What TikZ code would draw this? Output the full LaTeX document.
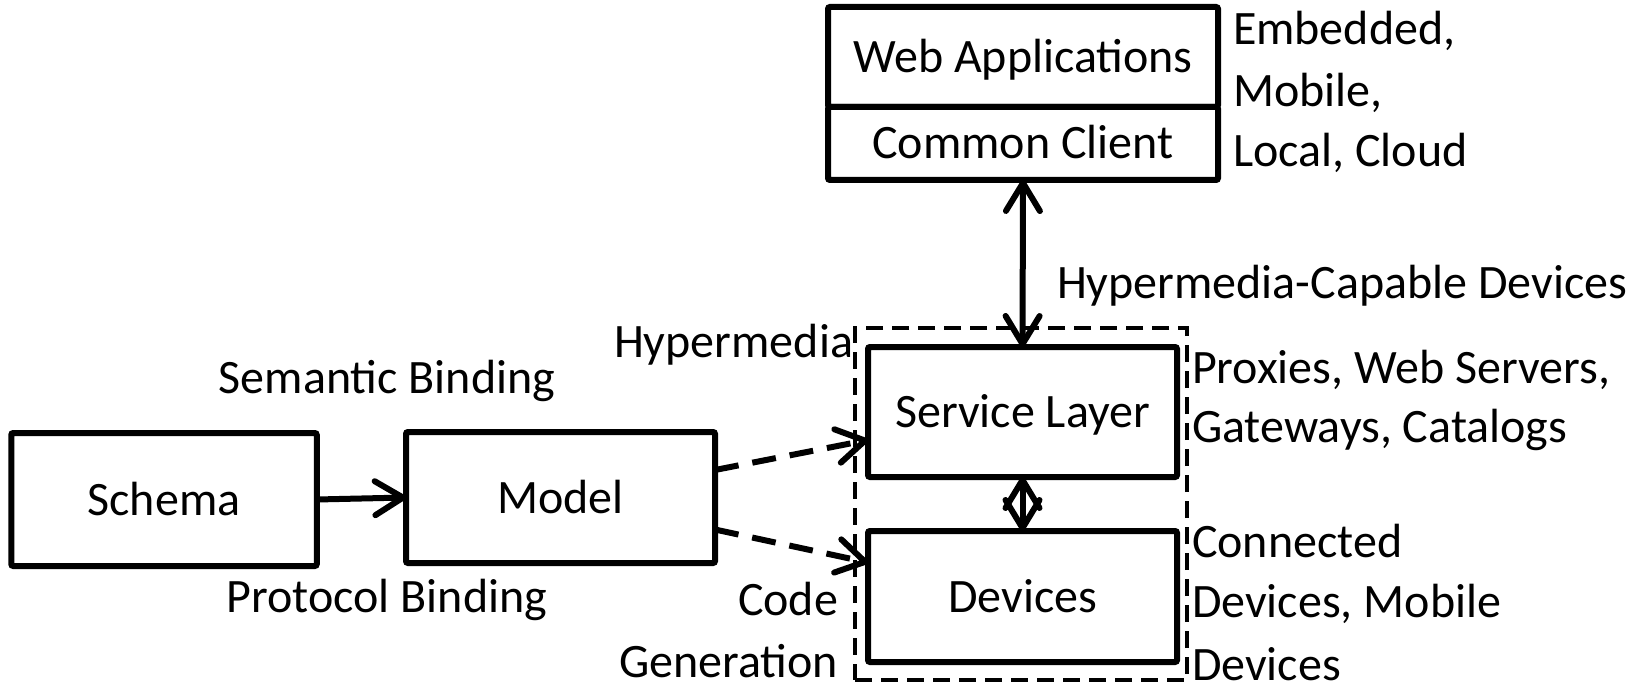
\documentclass[tikz,border=0pt]{standalone}
\usepackage{fontspec}
\setmainfont{Carlito}
\usetikzlibrary{arrows.meta}
\begin{document}
\begin{tikzpicture}[x=0.5pt,y=-0.5pt,
  every node/.style={font=\fontsize{24}{28}\selectfont, inner sep=0pt, outer sep=0pt},
  box/.style={draw, line width=3pt, rounded corners=1pt, text height=15.5pt, text depth=0pt},
  grp/.style={draw, line width=2.2pt, dash pattern=on 8.5pt off 4.5pt},
  >={Straight Barb[length=14pt,width=17pt,round]},
  arr/.style={line width=3pt, ->},
  biarr/.style={line width=3pt, <->},
  darr/.style={line width=3pt, dash pattern=on 12pt off 7pt, ->}
]
\useasboundingbox (0,0) rectangle (1642,684);

% client stack
\node[box, minimum width=195pt, minimum height=50pt] (web) at (1023,57) {Web Applications};
\node[box, minimum width=195pt, minimum height=36.5pt] (client) at (1023,143.5) {Common Client};

% hypermedia group
\node[grp, minimum width=166pt, minimum height=176pt] (group) at (1021,504) {};
\node[box, minimum width=154.5pt, minimum height=65pt] (service) at (1022.5,412) {Service Layer};
\node[box, minimum width=154.5pt, minimum height=65.5pt] (devices) at (1022.5,596.5) {Devices};

% schema and model
\node[box, minimum width=152.75pt, minimum height=66.5pt] (schema) at (164,499.5) {Schema};
\node[box, minimum width=154.5pt, minimum height=65.5pt] (model) at (560.5,497.5) {Model};

% connectors
\draw[biarr] (client.south) -- (service.north);
\draw[biarr] (service.south) -- (devices.north);
\draw[arr] (schema.east) -- (model.west);
\draw[darr] ([yshift=13.75pt]model.east) -- ([yshift=-14pt]service.west);
\draw[darr] ([yshift=-16pt]model.east) -- ([yshift=17pt]devices.west);

% labels
\node[anchor=base west] (emb) at (1233,45) {Embedded,};
\node[anchor=base west] (mob) at (1233,107) {Mobile,};
\node[anchor=base west] (loc) at (1233,167) {Local, Cloud};
\node[anchor=base west] (hcd) at (1057,298) {Hypermedia-Capable Devices};
\node[anchor=base east] (hyp) at (853,357) {Hypermedia};
\node[anchor=base] (sem) at (387,393) {Semantic Binding};
\node[anchor=base] (pro) at (387,612) {Protocol Binding};
\node[anchor=base east] (code) at (838,615) {Code};
\node[anchor=base east] (gen) at (838,677) {Generation};
\node[anchor=base west] (prx) at (1192,383) {Proxies, Web Servers,};
\node[anchor=base west] (gat) at (1192,442) {Gateways, Catalogs};
\node[anchor=base west] (con) at (1192,557) {Connected};
\node[anchor=base west] (dvm) at (1192,617) {Devices, Mobile};
\node[anchor=base west] (dev) at (1192,680) {Devices};
\end{tikzpicture}
\end{document}
